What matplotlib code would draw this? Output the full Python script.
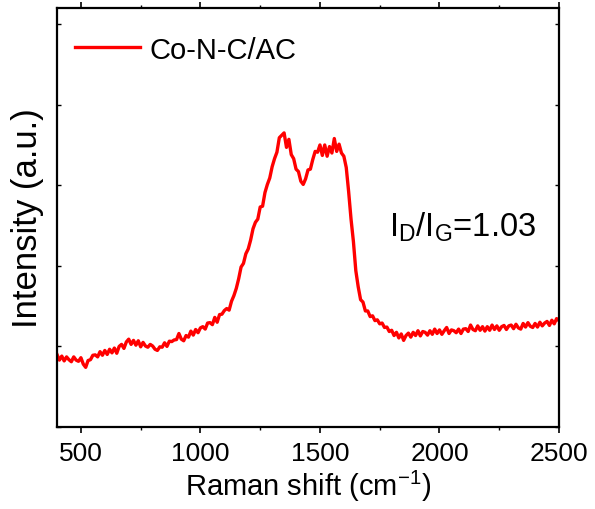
import numpy as np
import matplotlib
matplotlib.use("Agg")
import matplotlib.pyplot as plt
from matplotlib.ticker import MultipleLocator

plt.rcParams['font.family'] = ['Liberation Sans', 'DejaVu Sans']
plt.rcParams['mathtext.fontset'] = 'custom'
plt.rcParams['mathtext.rm'] = 'Liberation Sans'
plt.rcParams['mathtext.it'] = 'Liberation Sans'

# Raman shift grid (cm^-1), one point every 10 cm^-1
shift = np.arange(400, 2501, 10)

# intensity (arbitrary units), one row per 100 cm^-1
intensity = [
    900, 830, 880, 820, 870, 835, 810, 870, 830, 815,           # 400
    860, 780, 740, 825, 835, 890, 895, 870, 935, 890,           # 500
    950, 900, 965, 920, 980, 915, 1000, 1025, 975, 1055,        # 600
    1090, 1025, 1075, 1015, 1070, 995, 1050, 1005, 990, 1025,   # 700
    1005, 965, 950, 995, 990, 1045, 1000, 1065, 1060, 1080,     # 800
    1085, 1160, 1090, 1070, 1135, 1115, 1190, 1140, 1210, 1170, # 900
    1230, 1245, 1215, 1290, 1295, 1270, 1360, 1300, 1395, 1400, # 1000
    1445, 1470, 1450, 1560, 1630, 1720, 1840, 1985, 2030, 2150, # 1100
    2210, 2320, 2460, 2540, 2580, 2730, 2740, 2910, 3010, 3090, # 1200
    3230, 3330, 3410, 3590, 3620, 3650, 3470, 3570, 3380, 3330, # 1300
    3200, 3170, 3050, 3010, 3080, 3190, 3200, 3320, 3420, 3410, # 1400
    3500, 3370, 3500, 3360, 3480, 3400, 3580, 3420, 3510, 3400, # 1500
    3360, 3220, 2920, 2580, 2300, 1940, 1740, 1580, 1550, 1440, # 1600
    1440, 1370, 1380, 1320, 1330, 1280, 1290, 1235, 1240, 1185, # 1700
    1200, 1135, 1175, 1105, 1155, 1075, 1135, 1165, 1115, 1175, # 1800
    1135, 1195, 1130, 1185, 1175, 1140, 1195, 1150, 1215, 1160, # 1900
    1205, 1150, 1195, 1235, 1160, 1205, 1195, 1170, 1215, 1160, # 2000
    1215, 1220, 1185, 1265, 1210, 1195, 1255, 1200, 1245, 1190, # 2100
    1245, 1200, 1265, 1210, 1255, 1200, 1245, 1260, 1210, 1255, # 2200
    1265, 1220, 1275, 1230, 1215, 1285, 1240, 1295, 1250, 1235, # 2300
    1285, 1240, 1300, 1255, 1290, 1310, 1260, 1325, 1280, 1345, # 2400
    1320,                                                       # 2500
]

label = "Co-N-C/AC"
ratio_text = r"I$_\mathregular{D}$/I$_\mathregular{G}$=1.03"

fig = plt.figure(figsize=(5.95, 5.10), dpi=100)
ax = fig.add_axes([0.0958, 0.1608, 0.8437, 0.8216])

ax.plot(shift, intensity, color="#ff0000", lw=2.4, label=label)

ax.set_xlim(400, 2500)
ax.set_ylim(0, 5200)
ax.xaxis.set_major_locator(MultipleLocator(500))
ax.xaxis.set_minor_locator(MultipleLocator(250))
ax.yaxis.set_major_locator(MultipleLocator(1000))
ax.set_yticklabels([])

ax.tick_params(axis='x', which='major', direction='out', length=4, width=1.2,
               labelsize=19, top=True, pad=6)
ax.tick_params(axis='x', which='minor', direction='out', length=2.5, width=1.0, top=True)
ax.tick_params(axis='y', which='major', direction='in', length=3, width=1.0, right=True)
for s in ax.spines.values():
    s.set_linewidth(1.6)

ax.set_xlabel(r"Raman shift (cm$^{\mathregular{-1}}$)", fontsize=21, labelpad=2)
ax.set_ylabel("Intensity (a.u.)", fontsize=25, labelpad=6)

ax.legend(loc="upper left", bbox_to_anchor=(0.0, 0.978), frameon=False, fontsize=21,
          handlelength=2.2, handletextpad=0.35, borderaxespad=0.23)
ax.text(1790, 2370, ratio_text, fontsize=23.5)

fig.savefig("out.png", dpi=100)
